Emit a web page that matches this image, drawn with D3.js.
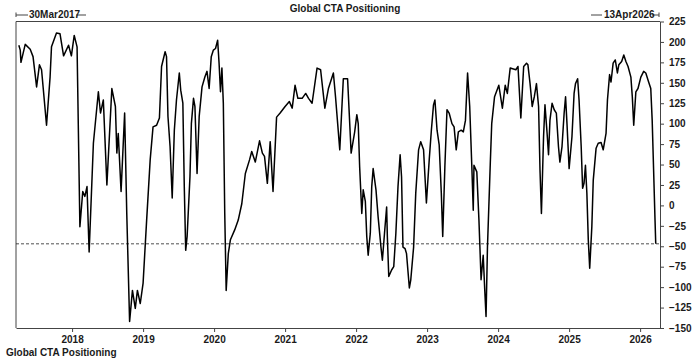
<!DOCTYPE html>
<html>
<head>
<meta charset="utf-8">
<script src="https://cdn.jsdelivr.net/npm/d3@7"></script>
<style>
  body { margin: 0; background: #fff; }
  svg text { font-family: "Liberation Sans", Arial, sans-serif; font-weight: bold; fill: #1a1a1a; }
</style>
</head>
<body>
<div id="chart"></div>
<script>
// Global CTA Positioning, readings (decimal year, value)
const years = [
  // 2017 - 2018
  2017.25, 2017.27, 2017.28, 2017.34, 2017.41, 2017.45, 2017.50, 2017.54, 2017.57, 2017.64,
  2017.69, 2017.71, 2017.78, 2017.83, 2017.88, 2017.95, 2017.99, 2018.03, 2018.07, 2018.11,
  2018.15, 2018.18, 2018.21, 2018.24, 2018.30, 2018.37, 2018.40, 2018.44, 2018.49, 2018.56,
  2018.61, 2018.63, 2018.65, 2018.69, 2018.74, 2018.77, 2018.81, 2018.85, 2018.89, 2018.92,
  // 2019 - mid 2020
  2018.96, 2019.00, 2019.05, 2019.10, 2019.14, 2019.19, 2019.23, 2019.26, 2019.31, 2019.33,
  2019.35, 2019.38, 2019.41, 2019.44, 2019.47, 2019.51, 2019.53, 2019.56, 2019.58, 2019.60,
  2019.62, 2019.66, 2019.68, 2019.71, 2019.73, 2019.76, 2019.79, 2019.83, 2019.87, 2019.90,
  2019.93, 2019.96, 2019.99, 2020.02, 2020.05, 2020.07, 2020.09, 2020.11, 2020.13, 2020.15,
  2020.17, 2020.20, 2020.23, 2020.29, 2020.34, 2020.39, 2020.44, 2020.50,
  // mid 2020 - 2021
  2020.53, 2020.58, 2020.64, 2020.68, 2020.71, 2020.75, 2020.79, 2020.83, 2020.88, 2020.93,
  2021.00, 2021.06, 2021.10, 2021.14, 2021.18, 2021.24, 2021.29, 2021.33, 2021.38, 2021.45,
  2021.50, 2021.56, 2021.61, 2021.68, 2021.71, 2021.77, 2021.82, 2021.88, 2021.93,
  // 2022 - 2023
  2021.98, 2022.01, 2022.03, 2022.05, 2022.08, 2022.10, 2022.13, 2022.15, 2022.17, 2022.20,
  2022.22, 2022.24, 2022.28, 2022.31, 2022.35, 2022.37, 2022.40, 2022.43, 2022.44, 2022.46,
  2022.50, 2022.53, 2022.56, 2022.59, 2022.62, 2022.64, 2022.66, 2022.69, 2022.71, 2022.75,
  2022.77, 2022.81, 2022.84, 2022.88, 2022.91, 2022.95, 2022.97, 2022.99, 2023.03, 2023.06,
  2023.09, 2023.11, 2023.14, 2023.17, 2023.20, 2023.22, 2023.25, 2023.28, 2023.31, 2023.35,
  2023.38, 2023.41, 2023.44, 2023.48, 2023.51, 2023.54, 2023.57, 2023.60, 2023.63, 2023.65,
  2023.66, 2023.70, 2023.73, 2023.76, 2023.79, 2023.81, 2023.83, 2023.85, 2023.89, 2023.91,
  2023.95,
  // 2024 - 2026
  2024.01, 2024.06, 2024.10, 2024.13, 2024.17, 2024.25, 2024.28, 2024.32, 2024.36, 2024.40,
  2024.42, 2024.45, 2024.48, 2024.51, 2024.54, 2024.57, 2024.59, 2024.61, 2024.64, 2024.66,
  2024.69, 2024.71, 2024.73, 2024.76, 2024.79, 2024.82, 2024.85, 2024.87, 2024.90, 2024.93,
  2024.95, 2024.97, 2025.00, 2025.04, 2025.07, 2025.09, 2025.12, 2025.14, 2025.17, 2025.19,
  2025.21, 2025.23, 2025.25, 2025.27, 2025.29, 2025.32, 2025.34, 2025.38, 2025.41, 2025.45,
  2025.48, 2025.52, 2025.54, 2025.57, 2025.59, 2025.62, 2025.65, 2025.68, 2025.70, 2025.74,
  2025.77, 2025.80, 2025.83, 2025.87, 2025.89, 2025.91, 2025.94, 2025.97, 2026.01, 2026.05,
  2026.08, 2026.12, 2026.15, 2026.17, 2026.19, 2026.21, 2026.22
];
const values = [
  // 2017 - 2018
  196, 190, 175, 197, 191, 182, 145, 172, 166, 98,
  157, 194, 211, 210, 183, 196, 183, 208, 194, -26,
  17, 11, 23, -57, 76, 139, 113, 129, 25, 143,
  121, 64, 88, 17, 113, -10, -142, -104, -126, -104,
  // 2019 - mid 2020
  -120, -95, -18, 56, 96, 98, 107, 170, 188, 182,
  109, 72, 9, 92, 129, 162, 141, 125, 23, -55,
  -38, 35, 100, 131, 121, 39, 109, 145, 157, 164,
  143, 182, 190, 192, 202, 174, 139, 168, 125, -10,
  -104, -59, -42, -30, -18, 2, 39, 56,
  // mid 2020 - 2021
  66, 53, 79, 64, 60, 27, 78, 17, 108, 113,
  121, 127, 119, 147, 131, 131, 137, 131, 125, 168,
  166, 119, 143, 162, 133, 68, 155, 155, 64,
  // 2022 - 2023
  90, 111, 100, 47, -10, 19, 5, -38, -61, -34,
  23, 45, 19, -14, -51, -67, -34, -2, -38, -87,
  -79, -75, -34, 23, 62, 35, -51, -53, -59, -101,
  -91, -51, 15, 68, 78, 68, 35, 3, 56, 92,
  123, 129, 92, 74, 15, -38, 47, 117, 113, 100,
  96, 68, 90, 92, 90, 104, 162, 121, 47, -6,
  49, 41, -18, -91, -61, -100, -136, -51, 52, 100,
  133,
  // 2024 - 2026
  147, 119, 147, 137, 168, 166, 170, 107, 170, 174,
  172, 149, 121, 133, 149, 121, 43, -10, 84, 123,
  88, 62, 104, 125, 117, 113, 72, 53, 72, 113,
  133, 100, 45, 84, 137, 149, 155, 129, 72, 21,
  27, 49, 15, -42, -77, -26, 31, 70, 76, 77,
  68, 88, 129, 160, 151, 174, 178, 162, 172, 176,
  184, 176, 170, 157, 133, 98, 139, 143, 157, 164,
  162, 151, 143, 104, 43, -18, -47
];
const yearTicks = [2018, 2019, 2020, 2021, 2022, 2023, 2024, 2025, 2026];
const valueTicks = [-150, -125, -100, -75, -50, -25, 0, 25, 50, 75, 100, 125, 150, 175, 200, 225];
const title = "Global CTA Positioning";
const startLabel = "30Mar2017";
const endLabel = "13Apr2026";

const width = 700, height = 362;
const plotLeft = 16, plotRight = 660, plotTop = 21.5, plotBottom = 328;

const x = d3.scaleLinear().domain([2017.21, 2026.28]).range([plotLeft, plotRight]);
const y = d3.scaleLinear().domain([-150, 225]).range([plotBottom, plotTop]);

const data = years.map((yr, i) => ({ yr: yr, v: values[i] }));
const lastValue = values[values.length - 1];

const svg = d3.select("#chart").append("svg")
  .attr("width", width)
  .attr("height", height);

// frame: top + left (right and bottom come from the axes)
svg.append("path")
  .attr("d", `M${plotRight},${plotTop}H${plotLeft}V${plotBottom}`)
  .attr("fill", "none")
  .attr("stroke", "#444")
  .attr("stroke-width", 1);

// axes
svg.append("g")
  .attr("transform", `translate(${plotRight},0)`)
  .call(d3.axisRight(y).tickValues(valueTicks).tickSize(4).tickSizeOuter(0).tickPadding(5));

svg.append("g")
  .attr("transform", `translate(0,${plotBottom})`)
  .call(d3.axisBottom(x).tickValues(yearTicks).tickFormat(d3.format("d")).tickSize(4).tickSizeOuter(0).tickPadding(4));

svg.selectAll(".tick text")
  .attr("font-size", 10)
  .style("font-family", "'Liberation Sans', Arial, sans-serif")
  .style("font-weight", "bold")
  .attr("fill", "#1a1a1a");
svg.selectAll(".domain, .tick line").attr("stroke", "#444");

// last value reference (dashed)
svg.append("line")
  .attr("x1", plotLeft).attr("x2", plotRight)
  .attr("y1", y(lastValue)).attr("y2", y(lastValue))
  .attr("stroke", "#222")
  .attr("stroke-width", 0.8)
  .attr("stroke-dasharray", "3,2");

// series line
const line = d3.line()
  .x(d => x(d.yr))
  .y(d => y(d.v));

svg.append("path")
  .datum(data)
  .attr("fill", "none")
  .attr("stroke", "#000")
  .attr("stroke-width", 1.5)
  .attr("stroke-linejoin", "round")
  .attr("d", line);

// header
svg.append("text")
  .attr("x", 345).attr("y", 12)
  .attr("text-anchor", "middle")
  .attr("font-size", 10)
  .text(title);

// start date marker
svg.append("path")
  .attr("d", `M${plotLeft},12.5V17M${plotLeft},15H28M76,15H86`)
  .attr("stroke", "#444").attr("fill", "none");
svg.append("text")
  .attr("x", 29).attr("y", 17.5)
  .attr("font-size", 10)
  .text(startLabel);

// end date marker
svg.append("path")
  .attr("d", `M591,15H602M652,15H659M659,12.5V17`)
  .attr("stroke", "#444").attr("fill", "none");
svg.append("text")
  .attr("x", 604).attr("y", 17.5)
  .attr("font-size", 10)
  .text(endLabel);

// footer
svg.append("text")
  .attr("x", 6).attr("y", 356)
  .attr("font-size", 10)
  .text(title);
</script>
</body>
</html>
